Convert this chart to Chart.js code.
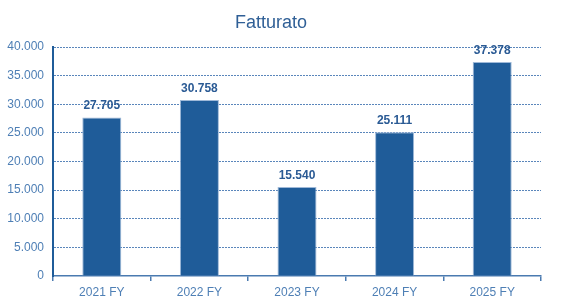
<!DOCTYPE html>
<html>
<head>
<meta charset="utf-8">
<script src="https://cdn.jsdelivr.net/npm/chart.js@4"></script>
<style>
  html, body { margin: 0; padding: 0; background: #ffffff; }
  #wrap { width: 575px; height: 308px; }
</style>
</head>
<body>
<div id="wrap"><canvas id="fatturato-chart"></canvas></div>
<script>
const years = ["2021 FY", "2022 FY", "2023 FY", "2024 FY", "2025 FY"];
const fatturato = [27705, 30758, 15540, 25111, 37378];
const yTicks = [0, 5000, 10000, 15000, 20000, 25000, 30000, 35000, 40000];

const ctx = document.getElementById("fatturato-chart");

// punto come separatore delle migliaia
function formatIt(n) {
  return String(n).replace(/\B(?=(\d{3})+(?!\d))/g, ".");
}

const titleAndLabels = {
  id: "titleAndLabels",
  afterDatasetsDraw(chart) {
    const c = chart.ctx;
    c.save();
    c.fillStyle = "#2f5f96";
    c.textAlign = "center";
    c.textBaseline = "alphabetic";
    c.font = "18px 'Liberation Sans', Arial, sans-serif";
    c.fillText("Fatturato", 271, 28);

    c.font = "bold 12px 'Liberation Sans', Arial, sans-serif";
    c.fillStyle = "#2a5a94";
    const meta = chart.getDatasetMeta(0);
    meta.data.forEach((bar, i) => {
      c.fillText(formatIt(fatturato[i]), bar.x, bar.y - 8);
    });
    c.restore();
  },
};

new Chart(ctx, {
  type: "bar",
  data: {
    labels: years,
    datasets: [
      {
        label: "Fatturato",
        data: fatturato,
        backgroundColor: "#1f5c99",
        borderColor: "#9fb9d8",
        borderWidth: 1,
        categoryPercentage: 1,
        barPercentage: 0.4,
      },
    ],
  },
  options: {
    responsive: true,
    maintainAspectRatio: false,
    animation: false,
    layout: {
      padding: { top: 47, left: 0, right: 34, bottom: 0 },
    },
    scales: {
      x: {
        afterFit(scale) {
          scale.height = 32;
        },
        grid: {
          offset: true,
          drawOnChartArea: false,
          drawTicks: true,
          tickLength: 5,
          color: "#4a7ab0",
          lineWidth: 1.5,
        },
        border: {
          display: true,
          color: "#4a7ab0",
          width: 1.5,
        },
        ticks: {
          color: "#4e7fb5",
          padding: 4,
          font: { family: "'Liberation Sans', Arial, sans-serif", size: 12 },
        },
      },
      y: {
        min: 0,
        max: 40000,
        afterFit(scale) {
          scale.width = 53;
        },
        afterBuildTicks(scale) {
          scale.ticks = yTicks.map((v) => ({ value: v }));
        },
        grid: {
          drawTicks: false,
          color: (c) => (c.tick && c.tick.value === 0 ? "rgba(0,0,0,0)" : "#5a86bb"),
          lineWidth: 1,
        },
        border: {
          display: true,
          color: "#1f5c99",
          width: 2,
          dash: [2, 1],
        },
        ticks: {
          color: "#4e7fb5",
          padding: 9,
          callback: (v) => formatIt(v),
          font: { family: "'Liberation Sans', Arial, sans-serif", size: 12 },
        },
      },
    },
    plugins: {
      legend: {
        display: false,
      },
      tooltip: {
        enabled: false,
      },
    },
  },
  plugins: [titleAndLabels],
});
</script>
</body>
</html>
